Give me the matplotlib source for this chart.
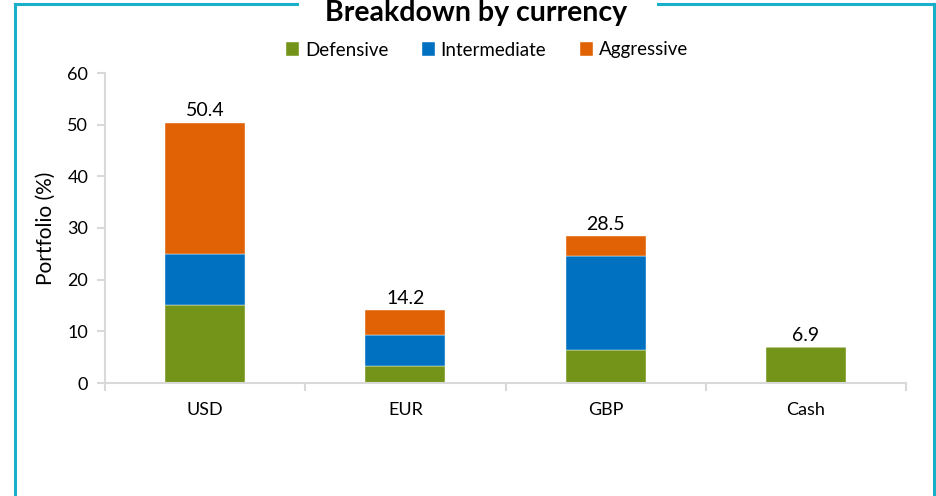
import matplotlib
matplotlib.use("Agg")
import matplotlib.pyplot as plt
from matplotlib.lines import Line2D
import numpy as np

plt.rcParams['font.family'] = ['Lato', 'DejaVu Sans']

# Portfolio breakdown by currency (%)
currencies = ['USD', 'EUR', 'GBP', 'Cash']
defensive = [15.1, 3.2, 6.4, 6.9]
intermediate = [9.9, 6.0, 18.2, 0.0]
aggressive = [25.4, 5.0, 3.9, 0.0]
totals = [50.4, 14.2, 28.5, 6.9]

green = '#739419'
blue = '#0070c0'
orange = '#e06205'
frame_col = '#17b0c8'
spine_col = '#d9d9d9'

W, H = 936, 496
fig = plt.figure(figsize=(W / 100, H / 100), dpi=100)
ax = fig.add_axes([105 / W, 1 - 383 / H, (906 - 105) / W, (383 - 73) / H])

x = np.arange(len(currencies))
bw = 0.4
d = np.array(defensive)
m = np.array(intermediate)
a = np.array(aggressive)
ax.bar(x, d, bw, color=green, label='Defensive', edgecolor='white', linewidth=0.3)
ax.bar(x, m, bw, bottom=d, color=blue, label='Intermediate', edgecolor='white', linewidth=0.3)
ax.bar(x, a, bw, bottom=d + m, color=orange, label='Aggressive', edgecolor='white', linewidth=0.3)

for xi, t in zip(x, totals):
    ax.text(xi, t + 0.6, f'{t:.1f}', ha='center', va='bottom', fontsize=14)

ax.set_xlim(-0.5, len(currencies) - 0.5)
ax.set_ylim(0, 60)
ax.set_yticks(range(0, 61, 10))
ax.set_xticks(x)
ax.set_xticklabels(currencies)
ax.set_xticks(np.arange(-0.5, len(currencies)), minor=True)
ax.tick_params(axis='x', which='major', length=0, pad=14, labelsize=13)
ax.tick_params(axis='x', which='minor', length=6, color=spine_col, width=1.5)
ax.tick_params(axis='y', length=6, color=spine_col, width=1.5, labelsize=13, pad=6)
ax.set_ylabel('Portfolio (%)', fontsize=15, labelpad=8)

for s in ['top', 'right']:
    ax.spines[s].set_visible(False)
for s in ['left', 'bottom']:
    ax.spines[s].set_color(spine_col)
    ax.spines[s].set_linewidth(1.5)

fig.legend(loc='center', bbox_to_anchor=(487 / W, 1 - 50 / H), ncol=3, frameon=False,
           fontsize=13.5, handlelength=0.7, handleheight=0.7, handletextpad=0.3,
           columnspacing=1.8)

# outer frame with a gap for the title
def px(xp, yp):
    return xp / W, 1 - yp / H

for xs, ys in [((15, 15), (4, 500)), ((934, 934), (4, 500)),
               ((15, 297), (4, 4)), ((658, 934), (4, 4))]:
    p0 = px(xs[0], ys[0])
    p1 = px(xs[1], ys[1])
    fig.add_artist(Line2D([p0[0], p1[0]], [p0[1], p1[1]], color=frame_col, lw=2.2))

fig.text(476 / W, 1 - 21 / H, 'Breakdown by currency', ha='center', va='baseline',
         fontsize=20.5, fontweight='bold')

fig.savefig('out.png', dpi=100)
